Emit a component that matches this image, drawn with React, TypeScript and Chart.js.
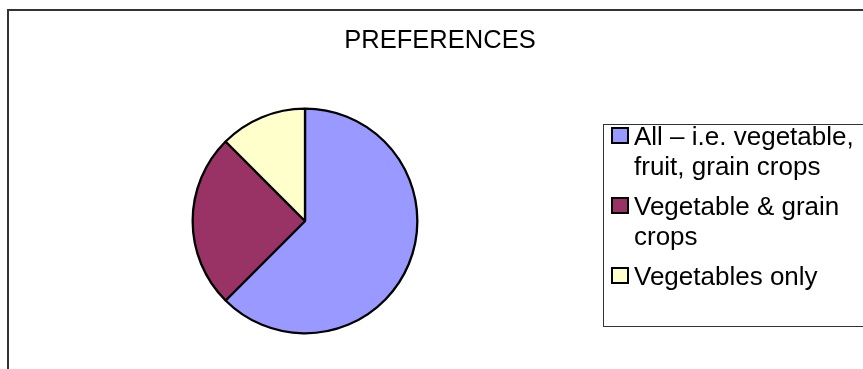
import { useEffect, useRef } from "react";
import { Chart, registerables } from "chart.js";

Chart.register(...registerables);

const TITLE = "PREFERENCES";
const categories: string[][] = [
  ["All – i.e. vegetable,", "fruit, grain crops"],
  ["Vegetable & grain", "crops"],
  ["Vegetables only"],
];
const values = [5, 2, 1];
const colors = ["#9999FF", "#993366", "#FFFFCC"];

const FONT = "'Liberation Sans', Arial, sans-serif";

const frameLegendPlugin = {
  id: "frameLegend",
  afterDraw(chart: any) {
    const ctx = chart.ctx as CanvasRenderingContext2D;
    ctx.save();
    // outer chart frame (top and left edges visible)
    ctx.fillStyle = "#333333";
    ctx.fillRect(7, 9, 900, 2);
    ctx.fillRect(7, 9, 2, 400);

    // title
    ctx.fillStyle = "#000000";
    ctx.font = `25.5px ${FONT}`;
    ctx.textAlign = "center";
    ctx.textBaseline = "alphabetic";
    ctx.fillText(TITLE, 440, 48);

    // legend frame
    ctx.strokeStyle = "#333333";
    ctx.lineWidth = 1;
    ctx.strokeRect(603.5, 124.5, 300, 202);

    // legend items
    const labels = chart.data.labels as (string | string[])[];
    const bg = chart.data.datasets[0].backgroundColor as string[];
    ctx.font = `26px ${FONT}`;
    ctx.textAlign = "left";
    let y = 145;
    labels.forEach((lab, i) => {
      const lines = Array.isArray(lab) ? lab : [lab];
      ctx.fillStyle = bg[i];
      ctx.fillRect(611, y - 18, 18, 17);
      ctx.lineWidth = 2;
      ctx.strokeStyle = "#000000";
      ctx.strokeRect(612, y - 17, 16, 15);
      ctx.fillStyle = "#000000";
      lines.forEach((ln, j) => ctx.fillText(ln, 634, y + j * 30));
      y += lines.length * 30 + 10;
    });
    ctx.restore();
  },
};

export default function App() {
  const ref = useRef<HTMLCanvasElement | null>(null);
  useEffect(() => {
    if (!ref.current) return;
    const chart = new Chart(ref.current, {
      type: "pie",
      data: {
        labels: categories,
        datasets: [
          {
            data: values,
            backgroundColor: colors,
            borderColor: "#000000",
            borderWidth: 2.3,
          },
        ],
      },
      options: {
        responsive: false,
        animation: false,
        layout: { padding: { left: 0, right: 253, top: 107.5, bottom: 34.5 } },
        plugins: {
          legend: { display: false },
          title: { display: false },
          tooltip: { enabled: false },
        },
      },
      plugins: [frameLegendPlugin],
    });
    return () => chart.destroy();
  }, []);
  return (
    <div style={{ position: "fixed", left: 0, top: 0, width: 863, height: 369, background: "#fff" }}>
      <canvas ref={ref} width={863} height={369} style={{ display: "block", width: 863, height: 369 }} />
    </div>
  );
}
